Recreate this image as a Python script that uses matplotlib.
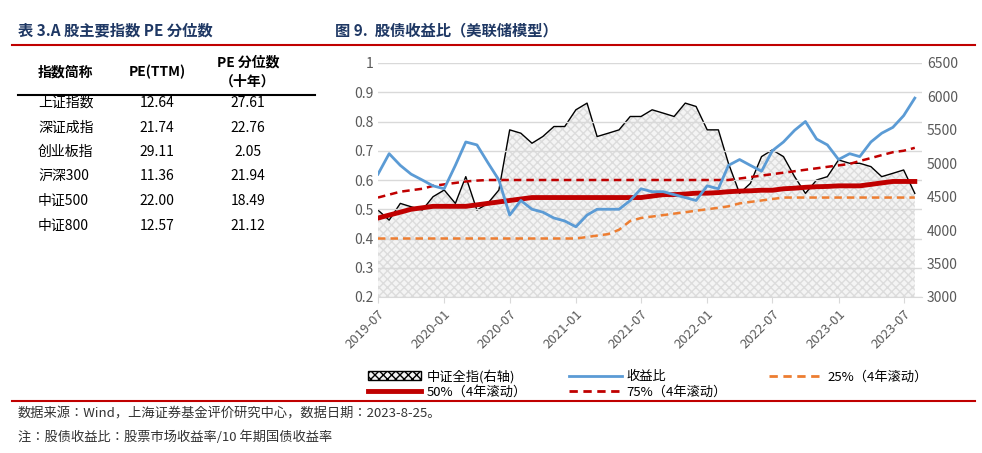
import matplotlib
matplotlib.use("Agg")
import matplotlib.pyplot as plt
import matplotlib.font_manager as fm
import pandas as pd
from matplotlib.patches import Patch
from matplotlib.lines import Line2D

cjk = None
for f in fm.findSystemFonts():
    if 'CJK' in f and ('SC' in f or 'ttc' in f.lower()):
        try:
            fm.fontManager.addfont(f)
            cjk = fm.FontProperties(fname=f).get_name()
            if 'SC' in f:
                break
        except Exception:
            pass
plt.rcParams['font.family'] = [cjk or 'Noto Sans CJK SC', 'DejaVu Sans']

names = ["上证指数", "深证成指", "创业板指", "沪深300", "中证500", "中证800"]
pe_ttm = ["12.64", "21.74", "29.11", "11.36", "22.00", "12.57"]
pe_pct = ["27.61", "22.76", "2.05", "21.94", "18.49", "21.12"]

months = pd.date_range("2019-07-01", "2023-08-01", freq="MS")
index_vals = [4300, 4150, 4400, 4350, 4300, 4500, 4600, 4400, 4800, 4300, 4400, 4600,
              5500, 5450, 5300, 5400, 5550, 5550, 5800, 5900, 5400, 5450, 5500, 5700,
              5700, 5800, 5750, 5700, 5900, 5850, 5500, 5500, 5000, 4550, 4700, 5100,
              5200, 5100, 4800, 4550, 4750, 4800, 5050, 5000, 5000, 4950, 4800, 4850,
              4900, 4550]
ratio = [0.62, 0.69, 0.65, 0.62, 0.60, 0.58, 0.57, 0.65, 0.73, 0.72, 0.66, 0.60,
         0.48, 0.53, 0.50, 0.49, 0.47, 0.46, 0.44, 0.48, 0.50, 0.50, 0.50, 0.53,
         0.57, 0.56, 0.56, 0.55, 0.54, 0.53, 0.58, 0.57, 0.65, 0.67, 0.65, 0.63,
         0.70, 0.73, 0.77, 0.80, 0.74, 0.72, 0.67, 0.69, 0.68, 0.73, 0.76, 0.78,
         0.82, 0.88]
p50 = [0.47, 0.48, 0.49, 0.50, 0.505, 0.51, 0.51, 0.51, 0.51, 0.515, 0.52, 0.525,
       0.53, 0.535, 0.54, 0.54, 0.54, 0.54, 0.54, 0.54, 0.54, 0.54, 0.54, 0.54,
       0.54, 0.545, 0.55, 0.55, 0.552, 0.555, 0.555, 0.557, 0.56, 0.562, 0.563, 0.565,
       0.565, 0.57, 0.572, 0.575, 0.577, 0.578, 0.58, 0.58, 0.58, 0.585, 0.59, 0.595,
       0.595, 0.595]
p75 = [0.54, 0.55, 0.56, 0.565, 0.57, 0.58, 0.585, 0.59, 0.595, 0.598, 0.60, 0.60,
       0.60, 0.60, 0.60, 0.60, 0.60, 0.60, 0.60, 0.60, 0.60, 0.60, 0.60, 0.60,
       0.60, 0.60, 0.60, 0.60, 0.60, 0.60, 0.60, 0.60, 0.60, 0.605, 0.61, 0.615,
       0.62, 0.625, 0.63, 0.635, 0.64, 0.645, 0.65, 0.655, 0.665, 0.675, 0.685, 0.695,
       0.70, 0.71]
p25 = [0.40, 0.40, 0.40, 0.40, 0.40, 0.40, 0.40, 0.40, 0.40, 0.40, 0.40, 0.40,
       0.40, 0.40, 0.40, 0.40, 0.40, 0.40, 0.40, 0.405, 0.41, 0.415, 0.43, 0.46,
       0.47, 0.475, 0.48, 0.485, 0.49, 0.495, 0.50, 0.505, 0.51, 0.52, 0.525, 0.53,
       0.535, 0.54, 0.54, 0.54, 0.54, 0.54, 0.54, 0.54, 0.54, 0.54, 0.54, 0.54,
       0.54, 0.54]

navy = "#1f3864"
red = "#c00000"
fig = plt.figure(figsize=(9.82, 4.53), dpi=100)

def fx(x): return x/982
def fy(y): return 1-y/453

fig.text(fx(18), fy(30), "表 3.A 股主要指数 PE 分位数", color=navy, fontsize=11, fontweight='bold', va='center')
fig.text(fx(335), fy(30), "图 9.  股债收益比（美联储模型）", color=navy, fontsize=11, fontweight='bold', va='center')
fig.add_artist(Line2D([fx(12), fx(975)], [fy(45)]*2, color=red, lw=1.5))
fig.add_artist(Line2D([fx(12), fx(975)], [fy(401)]*2, color=red, lw=1.5))
fig.text(fx(18), fy(414), "数据来源：Wind，上海证券基金评价研究中心，数据日期：2023-8-25。", fontsize=9.5, va='center', color='#333333')
fig.text(fx(18), fy(437), "注：股债收益比：股票市场收益率/10 年期国债收益率", fontsize=9.5, va='center', color='#333333')

fig.text(fx(65), fy(72), "指数简称", fontsize=10, fontweight='bold', ha='center', va='center')
fig.text(fx(157), fy(72), "PE(TTM)", fontsize=10, fontweight='bold', ha='center', va='center')
fig.text(fx(248), fy(62), "PE 分位数", fontsize=10, fontweight='bold', ha='center', va='center')
fig.text(fx(248), fy(82), "（十年）", fontsize=10, fontweight='bold', ha='center', va='center')
fig.add_artist(Line2D([fx(18), fx(315)], [fy(95)]*2, color='black', lw=1.5))
for i, (n, a, b) in enumerate(zip(names, pe_ttm, pe_pct)):
    y = 103 + i*24.5
    fig.text(fx(38), fy(y), n, fontsize=10, va='center')
    fig.text(fx(157), fy(y), a, fontsize=10, ha='center', va='center')
    fig.text(fx(248), fy(y), b, fontsize=10, ha='center', va='center')

ax = fig.add_axes([378/982, 1-297/453, 544/982, 234/453])
ax2 = ax.twinx()
ax.set_zorder(ax2.get_zorder()+1)
ax.patch.set_visible(False)
ax2.fill_between(months, 3000, index_vals, facecolor='#f4f4f4', edgecolor='#dcdcdc', hatch='xxxx', lw=0)
ax2.plot(months, index_vals, color='black', lw=1)
ax2.set_ylim(3000, 6500)
ax2.set_yticks(range(3000, 6501, 500))
ax.plot(months, p25, color='#ed7d31', lw=1.8, ls=(0, (3, 2)))
ax.plot(months, p75, color=red, lw=1.8, ls=(0, (3, 2)))
ax.plot(months, p50, color=red, lw=3.5)
ax.plot(months, ratio, color='#5b9bd5', lw=2)
ax.set_ylim(0.2, 1.0)
ax.set_yticks([0.2, 0.3, 0.4, 0.5, 0.6, 0.7, 0.8, 0.9, 1.0])
ax.set_yticklabels(["0.2", "0.3", "0.4", "0.5", "0.6", "0.7", "0.8", "0.9", "1"])
ax.set_xlim(months[0], months[-1] + pd.Timedelta(days=20))
ticks = pd.date_range("2019-07-01", "2023-07-01", freq="6MS")
ax.set_xticks(ticks)
ax.set_xticklabels([t.strftime("%Y-%m") for t in ticks], rotation=45, ha='right', rotation_mode='anchor')
ax.grid(axis='y', color='#d9d9d9', lw=1)
ax.set_axisbelow(True)
for a in (ax, ax2):
    for s in a.spines.values():
        s.set_visible(False)
    a.tick_params(length=0, colors='#595959', labelsize=10)
ax.spines['bottom'].set_visible(True)
ax.spines['bottom'].set_color('#d9d9d9')
ax.tick_params(axis='x', length=4, color='#d9d9d9', direction='out', labelsize=9.5)

h_idx = Patch(facecolor='#f2f2f2', edgecolor='black', hatch='xxxx', label='中证全指(右轴)')
h_r = Line2D([], [], color='#5b9bd5', lw=2, label='收益比')
h25 = Line2D([], [], color='#ed7d31', lw=2, ls=(0, (3, 2)), label='25%（4年滚动）')
h50 = Line2D([], [], color=red, lw=3.5, label='50%（4年滚动）')
h75 = Line2D([], [], color=red, lw=2, ls=(0, (3, 2)), label='75%（4年滚动）')
fig.legend(handles=[h_idx, h50, h_r, h75, h25], ncol=3, loc='center', bbox_to_anchor=(fx(648), fy(384)),
           frameon=False, fontsize=9.5, columnspacing=3.2, handlelength=4, handletextpad=0.4,
           labelspacing=0.15)

fig.savefig("out.png", dpi=100)
